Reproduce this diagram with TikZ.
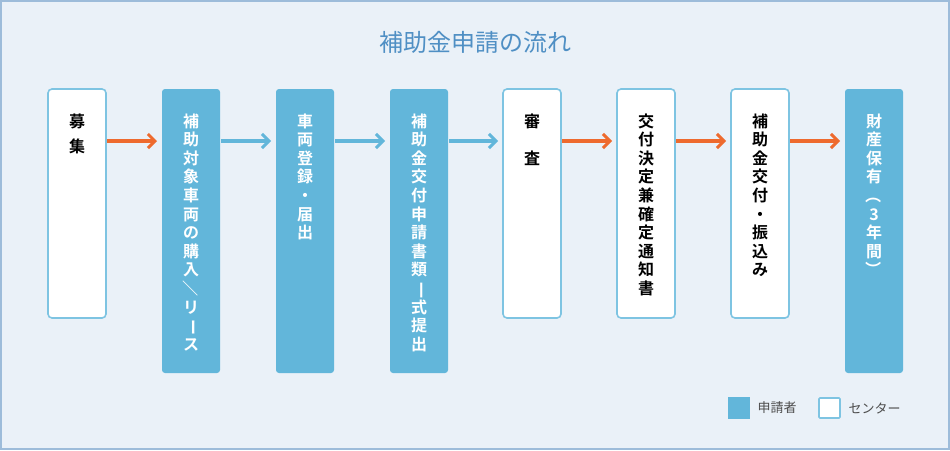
\documentclass[tikz,border=0pt]{standalone}
\usetikzlibrary{arrows.meta}
\usepackage{fontspec}
\newfontfamily\cjk{Noto Sans CJK JP}
\newfontfamily\cjkb{Noto Sans CJK JP Bold}
\definecolor{bg}{HTML}{EAF1F8}
\definecolor{frame}{HTML}{9DBCDA}
\definecolor{bl}{HTML}{62B6DA}
\definecolor{bd}{HTML}{7EC4E2}
\definecolor{og}{HTML}{EE6A2E}
\definecolor{ttl}{HTML}{4F8FC4}
\newcommand{\rot}[1]{\rotatebox[origin=c]{-90}{#1}}
\begin{document}
\begin{tikzpicture}[x=1pt,y=-1pt,
 wbox/.style={draw=bd,line width=1.6pt,fill=white,rounded corners=4pt},
 bbox/.style={fill=bl,rounded corners=3pt},
 vt/.style={anchor=north,align=center,font=\cjkb\fontsize{16}{18.6}\selectfont},
 arr/.style={line width=4pt,-{Straight Barb[length=7pt,width=14pt,line width=3pt]}},
 oa/.style={arr,draw=og}, ba/.style={arr,draw=bl}]
\useasboundingbox (0,0) rectangle (950,450);
\draw[fill=bg,draw=frame,line width=1.5pt] (1,1) rectangle (949,449);
\node[font=\cjk\fontsize{24}{28}\selectfont,text=ttl] (title) at (475,42) {補助金申請の流れ};
\path[wbox] (48,89) rectangle (106,318) coordinate (b1);
\path[bbox] (162,89) rectangle (220,373);
\path[bbox] (276,89) rectangle (334,373);
\path[bbox] (390,89) rectangle (448,373);
\path[wbox] (503,89) rectangle (561,318);
\path[wbox] (617,89) rectangle (675,318);
\path[wbox] (731,89) rectangle (789,318);
\path[bbox] (845,89) rectangle (903,373);
\node[vt,font=\cjkb\fontsize{16}{25}\selectfont] (t1) at (77,110) {募\\集};
\node[vt,text=white] (t2) at (191,110) {補\\助\\対\\象\\車\\両\\の\\購\\入\\\rot{／}\\リ\\\rot{ー}\\ス};
\node[vt,text=white] (t3) at (305,110) {車\\両\\登\\録\\・\\届\\出};
\node[vt,text=white] (t4) at (419,110) {補\\助\\金\\交\\付\\申\\請\\書\\類\\\rot{一}\\式\\提\\出};
\node[vt,font=\cjkb\fontsize{16}{37}\selectfont] (t5) at (532,110) {審\\査};
\node[vt] (t6) at (646,110) {交\\付\\決\\定\\兼\\確\\定\\通\\知\\書};
\node[vt] (t7) at (760,110) {補\\助\\金\\交\\付\\・\\振\\込\\み};
\node[vt,text=white] (t8) at (874,110) {財\\産\\保\\有\\\rot{（}\\3\\年\\間\\\rot{）}};
\coordinate (a1) at (107,141); \coordinate (e1) at (157,141);
\coordinate (a2) at (221,141); \coordinate (e2) at (271,141);
\coordinate (a3) at (335,141); \coordinate (e3) at (385,141);
\coordinate (a4) at (449,141); \coordinate (e4) at (498,141);
\coordinate (a5) at (562,141); \coordinate (e5) at (612,141);
\coordinate (a6) at (676,141); \coordinate (e6) at (726,141);
\coordinate (a7) at (790,141); \coordinate (e7) at (840,141);
\draw[oa] (a1) -- (e1);
\draw[ba] (a2) -- (e2);
\draw[ba] (a3) -- (e3);
\draw[ba] (a4) -- (e4);
\draw[oa] (a5) -- (e5);
\draw[oa] (a6) -- (e6);
\draw[oa] (a7) -- (e7);
\path[fill=bl] (728,397) rectangle (750,419);
\node[anchor=west,font=\cjk\fontsize{13}{15}\selectfont,text=black!70] (l1) at (754,408) {申請者};
\path[wbox,rounded corners=1pt] (819,398) rectangle (840,418);
\node[anchor=west,font=\cjk\fontsize{13}{15}\selectfont,text=black!70] (l2) at (845,408) {センター};
\end{tikzpicture}
\end{document}
